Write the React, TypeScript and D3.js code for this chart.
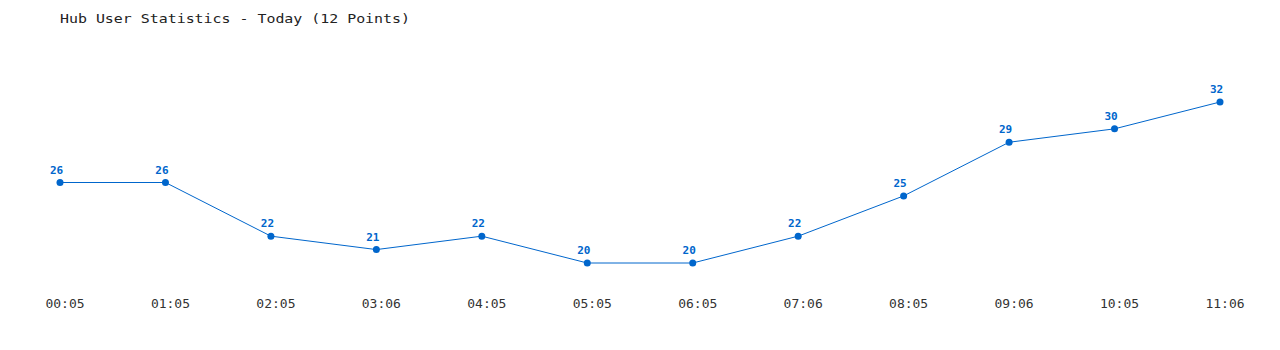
import React from "react";
import * as d3 from "d3";

const categories = ["00:05","01:05","02:05","03:06","04:05","05:05","06:05","07:06","08:05","09:06","10:05","11:06"];
const values = [26, 26, 22, 21, 22, 20, 20, 22, 25, 29, 30, 32];
const title = "Hub User Statistics - Today (12 Points)";

export default function App() {
  const W = 1280, H = 350;
  const x = d3.scalePoint<string>().domain(categories).range([60, 1220]);
  const y = d3.scaleLinear().domain([20, 32]).range([263, 102]);
  const line = d3.line<number>().x((_, i) => x(categories[i])!).y((d) => y(d));
  const font = "'DejaVu Sans Mono', 'Liberation Mono', monospace";
  return (
    <div style={{ position: "fixed", left: 0, top: 0 }}>
      <svg width={W} height={H} style={{ display: "block", background: "#fff" }}>
        <text x={60} y={23} fontFamily={font} fontSize={13} fill="#222" textLength={350} lengthAdjust="spacingAndGlyphs">{title}</text>
        <path d={line(values)!} fill="none" stroke="#0066cc" strokeWidth={1} />
        {values.map((v, i) => (
          <g key={i}>
            <circle cx={x(categories[i])!} cy={y(v)} r={3.5} fill="#0066cc" />
            <text x={x(categories[i])! - 3.5} y={y(v) - 9} textAnchor="middle" fontFamily={font} fontSize={11} fontWeight="bold" fill="#0066cc">{v}</text>
          </g>
        ))}
        {categories.map((c) => (
          <text key={c} x={x(c)! + 5} y={308} textAnchor="middle" fontFamily={font} fontSize={13} fill="#333">{c}</text>
        ))}
      </svg>
    </div>
  );
}
